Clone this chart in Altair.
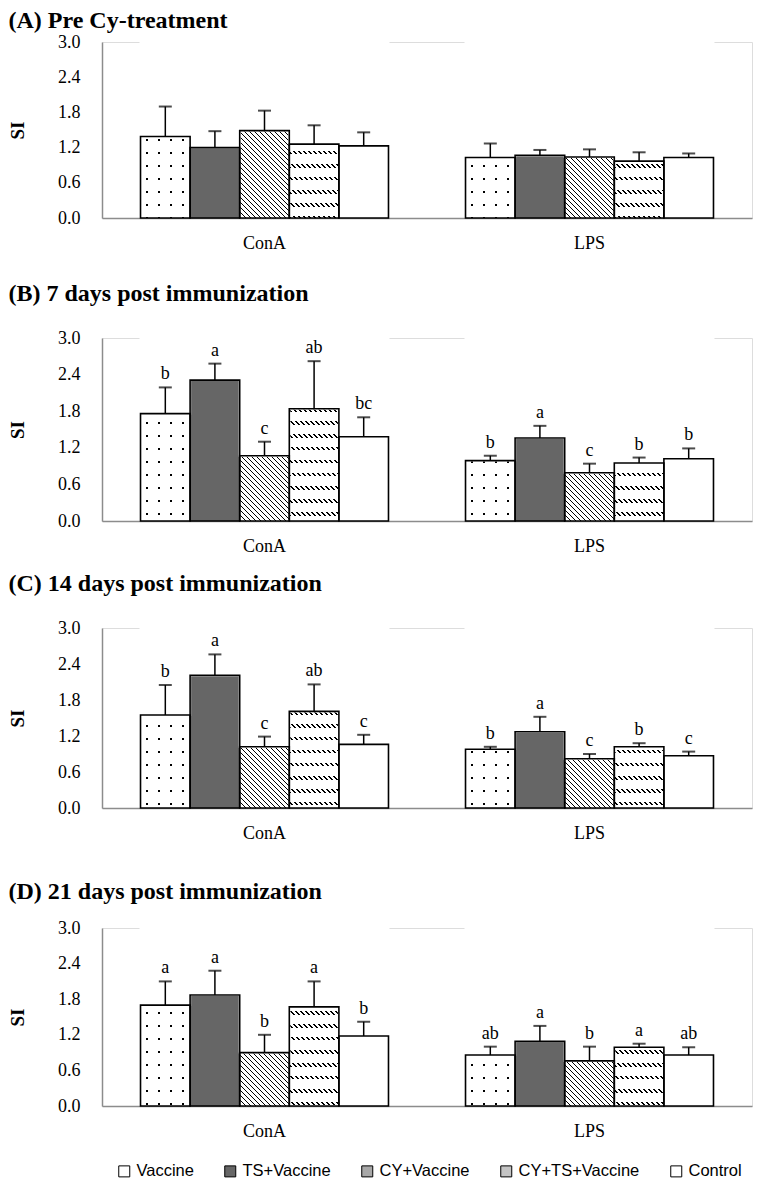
import altair as alt
import pandas as pd

# ---------------- data ----------------
panel_titles = ["(A) Pre Cy-treatment", "(B) 7 days post immunization",
                "(C) 14 days post immunization", "(D) 21 days post immunization"]
groups = ["Vaccine", "TS+Vaccine", "CY+Vaccine", "CY+TS+Vaccine", "Control"]
stims = ["ConA", "LPS"]

# order: ConA (5 groups) then LPS (5 groups)
mean_A = [1.39, 1.20, 1.49, 1.26, 1.23, 1.03, 1.07, 1.04, 0.97, 1.03]
sd_A = [0.51, 0.28, 0.34, 0.32, 0.23, 0.24, 0.09, 0.13, 0.15, 0.07]
let_A = ["", "", "", "", "", "", "", "", "", ""]

mean_B = [1.76, 2.31, 1.07, 1.84, 1.38, 0.99, 1.36, 0.79, 0.95, 1.02]
sd_B = [0.43, 0.27, 0.23, 0.78, 0.32, 0.08, 0.20, 0.15, 0.09, 0.17]
let_B = ["b", "a", "c", "ab", "bc", "b", "a", "c", "b", "b"]

mean_C = [1.55, 2.21, 1.02, 1.61, 1.06, 0.98, 1.27, 0.82, 1.02, 0.87]
sd_C = [0.50, 0.35, 0.17, 0.45, 0.16, 0.04, 0.25, 0.08, 0.06, 0.07]
let_C = ["b", "a", "c", "ab", "c", "b", "a", "c", "b", "c"]

mean_D = [1.70, 1.87, 0.90, 1.67, 1.18, 0.86, 1.09, 0.76, 0.99, 0.86]
sd_D = [0.40, 0.41, 0.30, 0.43, 0.24, 0.14, 0.26, 0.24, 0.06, 0.13]
let_D = ["a", "a", "b", "a", "b", "ab", "a", "b", "a", "ab"]

means = [mean_A, mean_B, mean_C, mean_D]
sds = [sd_A, sd_B, sd_C, sd_D]
lets = [let_A, let_B, let_C, let_D]

# ---------------- style ----------------
W = 650
heights = [176, 183, 180, 178]
title_offsets = [0, 23, 23, 15]
PI, PO = 0.237, 0.1185
bar_w = (W / (2 - PI + 2 * PO)) * (1 - PI) / 5
SERIF = "Liberation Serif"
SANS = "Liberation Sans"
CLEAR = "rgba(255,255,255,0)"
legend_fill = ["#ffffff", "#666666", "#a8a8a8", "#c4c4c4", "#ffffff"]


def band_stops(total, period, start, width, on, off):
    st = [(0.0, off)]
    pos = start
    while pos < total:
        a = pos / total
        b = min((pos + width) / total, 1.0)
        st += [(a, off), (a, on), (b, on), (b, off)]
        pos += period
    st.append((1.0, off))
    return [alt.GradientStop(color=c, offset=round(o, 5)) for o, c in st]


def grad_x(stops):
    return alt.LinearGradient(gradient="linear", stops=stops, x1=0, y1=0, x2=1, y2=0)


def grad_y(stops):
    return alt.LinearGradient(gradient="linear", stops=stops, x1=0, y1=0, x2=0, y2=1)


def grad_diag(h, period, lw):
    w = bar_w
    lam = (w + h) / (w * w + h * h)
    stops = band_stops(w + h, period, 0.5, lw, "black", "white")
    return alt.LinearGradient(gradient="linear", stops=stops, x1=0, y1=1,
                              x2=round(lam * w, 5), y2=round(1 - lam * h, 5))


rows = []
for p in range(4):
    for i in range(10):
        rows.append({"panel": p, "stim": stims[i // 5], "group": groups[i % 5],
                     "mean": means[p][i], "sd": sds[p][i], "letter": lets[p][i]})
df = pd.DataFrame(rows)

x_enc = alt.X("stim:N", scale=alt.Scale(domain=stims, paddingInner=PI, paddingOuter=PO),
              axis=alt.Axis(title=None, labelAngle=0, ticks=False, tickSize=0,
                            labelPadding=16, labelFont=SERIF, labelFontSize=18,
                            labelColor="black", domainColor="#8c8c8c", domainWidth=1.5))
xo_enc = alt.XOffset("group:N", scale=alt.Scale(domain=groups, paddingInner=0, paddingOuter=0))
y_scale = alt.Scale(domain=[0, 3], nice=False)
y_axis = alt.Axis(values=[0, 0.6, 1.2, 1.8, 2.4, 3.0], format=".1f", grid=False,
                  ticks=False, tickSize=0, labelPadding=22, labelFont=SERIF,
                  labelFontSize=18, labelColor="black", domainColor="#8c8c8c",
                  domainWidth=1.5, titleFont=SERIF, titleFontSize=19,
                  titleFontWeight="bold", titleColor="black", titlePadding=30)


def yd(v):
    return alt.YDatum(v, scale=y_scale, axis=y_axis, title="SI")


def panel(p):
    h = heights[p]
    base = alt.Chart(df).transform_filter(alt.datum.panel == p).transform_calculate(
        top="datum.mean + datum.sd")

    fills = base.mark_bar(strokeWidth=0).encode(
        x=x_enc, xOffset=xo_enc,
        y=alt.Y("mean:Q", scale=y_scale, axis=y_axis, title="SI"),
        color=alt.Color("group:N", scale=alt.Scale(domain=groups, range=legend_fill),
                        legend=alt.Legend(title=None, orient="none", direction="horizontal",
                                          legendX=14, legendY=1121,
                                          symbolType="square", symbolSize=121,
                                          symbolStrokeColor="black", symbolStrokeWidth=1,
                                          labelFont=SANS, labelFontSize=16.5,
                                          labelColor="black", labelOffset=4,
                                          columnPadding=28)))

    def full(mark_fill, grp):
        return base.transform_filter(alt.datum.group == grp).mark_bar(
            fill=mark_fill, strokeWidth=0).encode(
            x=x_enc, xOffset=xo_enc, y=yd(0), y2=alt.Y2Datum(3))

    # Vaccine: dots (vertical lines masked by horizontal white bands)
    v1 = full(grad_x(band_stops(bar_w, 12, 5, 2, "black", "white")), "Vaccine")
    v2 = full(grad_y(band_stops(h, 13, 6, 2, CLEAR, "white")), "Vaccine")
    # CY+Vaccine: diagonal lines
    c1 = full(grad_diag(h, 5, 1.3), "CY+Vaccine")
    # CY+TS+Vaccine: rows of diagonal dashes
    t1 = full(grad_diag(h, 5, 1.4), "CY+TS+Vaccine")
    t2 = full(grad_y(band_stops(h, 13, 5, 3.5, CLEAR, "white")), "CY+TS+Vaccine")

    cover = base.mark_bar(fill="white", stroke="white", strokeWidth=2).encode(
        x=x_enc, xOffset=xo_enc,
        y=alt.Y("mean:Q", scale=y_scale, axis=y_axis, title="SI"), y2=alt.Y2Datum(3))

    outline = base.mark_bar(fillOpacity=0, stroke="black", strokeWidth=1.6).encode(
        x=x_enc, xOffset=xo_enc,
        y=alt.Y("mean:Q", scale=y_scale, axis=y_axis, title="SI"))

    err = base.mark_rule(color="black", strokeWidth=1.5).encode(
        x=x_enc, xOffset=xo_enc,
        y=alt.Y("mean:Q", scale=y_scale, axis=y_axis, title="SI"), y2="top:Q")

    cap = base.mark_tick(color="black", thickness=2, size=13).encode(
        x=x_enc, xOffset=xo_enc,
        y=alt.Y("top:Q", scale=y_scale, axis=y_axis, title="SI"))

    txt = base.mark_text(font=SERIF, fontSize=18, color="black",
                         baseline="alphabetic", dy=-8).encode(
        x=x_enc, xOffset=xo_enc,
        y=alt.Y("top:Q", scale=y_scale, axis=y_axis, title="SI"),
        text="letter:N")

    return alt.layer(fills, v1, v2, c1, t1, t2, cover, outline, err, cap, txt).properties(
        width=W, height=h,
        title=alt.TitleParams(panel_titles[p], anchor="start", frame="bounds",
                              font=SERIF, fontSize=24, fontWeight="bold",
                              color="black", offset=title_offsets[p]))


top_pair = alt.vconcat(panel(0), panel(1), spacing=28)
bottom_pair = alt.vconcat(panel(2), panel(3), spacing=36)
chart = alt.vconcat(top_pair, bottom_pair, spacing=15).properties(
    padding=0).configure_view(stroke=None).configure(background="white")

chart.save("out.html", embed_options={"renderer": "svg", "actions": False})
